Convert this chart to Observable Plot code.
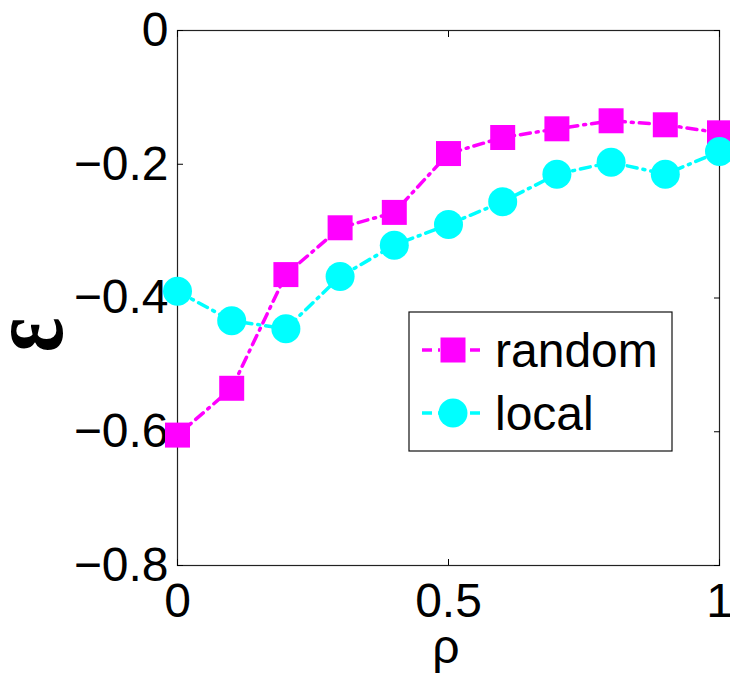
<!DOCTYPE html>
<html>
<head>
<meta charset="utf-8">
<script src="https://cdn.jsdelivr.net/npm/d3@7"></script>
<script src="https://cdn.jsdelivr.net/npm/@observablehq/plot@0.6"></script>
<style>
  html, body { margin: 0; padding: 0; background: #fff; }
  #chart { position: relative; width: 730px; height: 675px; }
  svg { font-family: "Liberation Sans", Arial, Helvetica, sans-serif; }
</style>
</head>
<body>
<div id="chart"></div>
<script>
const rho = [0, 0.1, 0.2, 0.3, 0.4, 0.5, 0.6, 0.7, 0.8, 0.9, 1.0];
const randomVals = [-0.605, -0.535, -0.365, -0.295, -0.272, -0.184, -0.160, -0.147, -0.135, -0.141, -0.153];
const localVals = [-0.390, -0.434, -0.446, -0.368, -0.321, -0.290, -0.256, -0.215, -0.197, -0.215, -0.181];
const xTicks = [0, 0.5, 1];
const yTicks = [0, -0.2, -0.4, -0.6, -0.8];
const seriesNames = ["random", "local"];
const seriesColors = ["#ff00ff", "#00ffff"];

const randomData = rho.map((x, i) => ({x, y: randomVals[i]}));
const localData = rho.map((x, i) => ({x, y: localVals[i]}));

const dash = "10,6,2,6";
const fmt = d => (d < 0 ? "\u2212" : "") + String(Math.abs(d));

const plot = Plot.plot({
  width: 730,
  height: 675,
  marginLeft: 177,
  marginRight: 11,
  marginTop: 30,
  marginBottom: 110,
  style: {fontFamily: "Liberation Sans, Arial, Helvetica, sans-serif", background: "white", overflow: "visible"},
  x: {domain: [0, 1]},
  y: {domain: [-0.8, 0]},
  marks: [
    Plot.frame({stroke: "#222", strokeWidth: 1.2}),
    // inward ticks on all four sides
    Plot.axisX(xTicks, {anchor: "bottom", tickSize: -6, text: null, label: null}),
    Plot.axisX(xTicks, {anchor: "top", tickSize: -6, text: null, label: null}),
    Plot.axisY(yTicks, {anchor: "left", tickSize: -6, text: null, label: null}),
    Plot.axisY(yTicks, {anchor: "right", tickSize: -6, text: null, label: null}),
    // tick labels
    Plot.axisX(xTicks, {anchor: "bottom", tickSize: 0, tickPadding: 17, fontSize: 48, label: null, tickFormat: d => String(d), fill: "black"}),
    Plot.axisY(yTicks, {anchor: "left", tickSize: 0, tickPadding: 9, fontSize: 48, label: null, tickFormat: fmt, fill: "black"}),
    Plot.line(randomData, {x: "x", y: "y", stroke: seriesColors[0], strokeWidth: 3.5, strokeDasharray: dash}),
    Plot.dot(randomData, {x: "x", y: "y", symbol: "square", r: 14.1, fill: seriesColors[0], stroke: null}),
    Plot.line(localData, {x: "x", y: "y", stroke: seriesColors[1], strokeWidth: 3.5, strokeDasharray: dash}),
    Plot.dot(localData, {x: "x", y: "y", symbol: "circle", r: 14.5, fill: seriesColors[1], stroke: null})
  ]
});

document.getElementById("chart").appendChild(plot);

const svg = d3.select(plot);

// axis titles
svg.append("text")
  .attr("transform", "translate(62,335) rotate(-90) scale(0.75,1)")
  .attr("text-anchor", "middle")
  .attr("font-family", "Liberation Serif, DejaVu Serif, serif")
  .attr("font-weight", "bold")
  .attr("font-size", 108)
  .attr("fill", "black")
  .text("\u03b5");

svg.append("text")
  .attr("x", 446)
  .attr("y", 663)
  .attr("text-anchor", "middle")
  .attr("font-size", 48)
  .attr("fill", "black")
  .text("\u03c1");

// legend
const lg = svg.append("g");
lg.append("rect").attr("x", 409).attr("y", 312).attr("width", 263).attr("height", 139)
  .attr("fill", "white").attr("stroke", "#111").attr("stroke-width", 1.2);
const rows = [350, 413];
seriesNames.forEach((name, i) => {
  const cy = rows[i];
  lg.append("line").attr("x1", 422).attr("x2", 484).attr("y1", cy).attr("y2", cy)
    .attr("stroke", seriesColors[i]).attr("stroke-width", 3.5).attr("stroke-dasharray", dash);
  if (i === 0) {
    lg.append("rect").attr("x", 453 - 12.5).attr("y", cy - 12.5).attr("width", 25).attr("height", 25)
      .attr("fill", seriesColors[i]);
  } else {
    lg.append("circle").attr("cx", 453).attr("cy", cy).attr("r", 14.5).attr("fill", seriesColors[i]);
  }
  lg.append("text").attr("x", 495).attr("y", cy).attr("dy", "0.35em")
    .attr("text-anchor", "start")
    .attr("font-size", 48).attr("fill", "black").text(name);
});
</script>
</body>
</html>
